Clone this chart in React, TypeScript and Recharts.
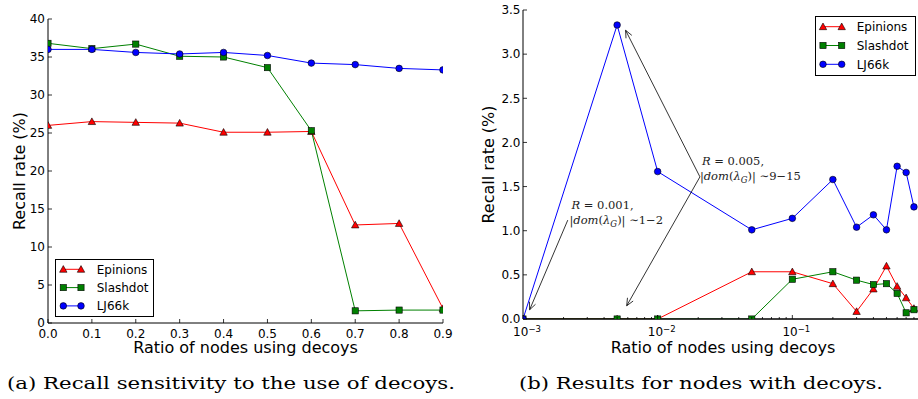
import React from "react";
import { LineChart, Line, XAxis, YAxis, Legend, ReferenceLine, ReferenceDot } from "recharts";

// (a) recall vs. ratio of nodes using decoys
const ratiosA = [0, 0.1, 0.2, 0.3, 0.4, 0.5, 0.6, 0.7, 0.8, 0.9];
const epinionsA = [26.0, 26.5, 26.4, 26.3, 25.1, 25.1, 25.2, 12.9, 13.1, 1.9];
const slashdotA = [36.8, 36.1, 36.7, 35.1, 35.0, 33.6, 25.3, 1.6, 1.7, 1.7];
const lj66kA = [36.0, 36.0, 35.6, 35.4, 35.6, 35.2, 34.2, 34.0, 33.5, 33.3];

// (b) results for nodes with decoys, log x
const ratiosB = [0.001, 0.005, 0.01, 0.05, 0.1, 0.2, 0.3, 0.4, 0.5, 0.6, 0.7, 0.8];
const epinionsB = [0, 0, 0, 0.535, 0.535, 0.4, 0.085, 0.34, 0.6, 0.37, 0.24, 0.12];
const slashdotB = [0, 0, 0, 0, 0.45, 0.535, 0.44, 0.39, 0.4, 0.29, 0.07, 0.105];
const lj66kB = [0, 3.33, 1.67, 1.01, 1.14, 1.58, 1.04, 1.18, 1.01, 1.73, 1.66, 1.27];

const xTicksA = [0, 0.1, 0.2, 0.3, 0.4, 0.5, 0.6, 0.7, 0.8, 0.9];
const yTicksA = [0, 5, 10, 15, 20, 25, 30, 35, 40];
const yTicksB = [0, 0.5, 1, 1.5, 2, 2.5, 3, 3.5];
const decadesB = [0.001, 0.01, 0.1, 1];

// annotation anchors (data coords of panel b)
const annoText = [
  { x: 0.00229, y: 1.25, r: "0.001", range: "1\u22122" },
  { x: 0.0213, y: 1.745, r: "0.005", range: "9\u221215" },
];
const annoArrows = [
  [{ x: 0.00215, y: 1.12 }, { x: 0.00112, y: 0.105 }],
  [{ x: 0.0206, y: 1.61 }, { x: 0.00578, y: 3.27 }],
  [{ x: 0.0206, y: 1.61 }, { x: 0.00589, y: 0.15 }],
];

const series = [
  { name: "Epinions", color: "#ff0000", marker: "tri", a: epinionsA, b: epinionsB },
  { name: "Slashdot", color: "#008000", marker: "sq", a: slashdotA, b: slashdotB },
  { name: "LJ66k", color: "#0000ff", marker: "circ", a: lj66kA, b: lj66kB },
];

const SANS = "'DejaVu Sans', sans-serif";
const SERIF = "'DejaVu Serif', serif";

const zip = (xs: number[], ys: number[]) => xs.map((x, i) => ({ x, y: ys[i] }));

// minor ticks 2..9 per decade
const logTicksB = decadesB.flatMap((d) =>
  d >= 1 ? [d] : [1, 2, 3, 4, 5, 6, 7, 8, 9].map((k) => +(k * d).toPrecision(3))
);
const isDecade = (v: number) => Math.abs(Math.log10(v) - Math.round(Math.log10(v))) < 1e-6;

function Marker({ kind, cx, cy, color }: { kind: string; cx: number; cy: number; color: string }) {
  const st = { fill: color, stroke: "#000", strokeWidth: 0.6 };
  if (kind === "tri") {
    const h = 3.7;
    return <path d={`M${cx},${cy - h} L${cx + h},${cy + h * 0.8} L${cx - h},${cy + h * 0.8} Z`} {...st} />;
  }
  if (kind === "sq") return <rect x={cx - 3.1} y={cy - 3.1} width={6.2} height={6.2} {...st} />;
  return <circle cx={cx} cy={cy} r={3.3} {...st} />;
}

const dotFor = (kind: string, color: string) => (p: any) => {
  if (p.cx == null || p.cy == null) return <g key={`d-${p.index}`} />;
  return (
    <g key={`d-${p.index}`}>
      <Marker kind={kind} cx={p.cx} cy={p.cy} color={color} />
    </g>
  );
};

// inward ticks drawn by hand, matplotlib style
const tickFactory =
  (side: string, gap: number, label?: (x: number, y: number, v: number) => React.ReactNode, minorCheck?: (v: number) => boolean) =>
  (p: any) => {
    const { x, y, payload } = p;
    const v = payload.value;
    const small = minorCheck ? minorCheck(v) : false;
    const len = small ? 2 : 4;
    let x1 = x, y1 = y, x2 = x, y2 = y;
    if (side === "bottom") { y1 = y - gap; y2 = y1 - len; }
    else if (side === "top") { y1 = y + gap; y2 = y1 + len; }
    else if (side === "left") { x1 = x + gap; x2 = x1 + len; }
    else { x1 = x - gap; x2 = x1 - len; }
    return (
      <g>
        <line x1={x1} y1={y1} x2={x2} y2={y2} stroke="#000" strokeWidth={0.8} />
        {label && !small ? label(x, y, v) : null}
      </g>
    );
  };

const tickText = { fontSize: 12, fontFamily: SANS, fill: "#000" };

const bottomLabelA = (x: number, y: number, v: number) => (
  <text x={x} y={y} dy="0.72em" textAnchor="middle" {...tickText}>{v.toFixed(1)}</text>
);
const leftLabelA = (x: number, y: number, v: number) => (
  <text x={x} y={y} dy="0.36em" textAnchor="end" {...tickText}>{v}</text>
);
const leftLabelB = (x: number, y: number, v: number) => (
  <text x={x} y={y} dy="0.36em" textAnchor="end" {...tickText}>{v.toFixed(1)}</text>
);
// 10^0 sits past the visible edge in the original, so no label for it
const logLabelB = (x: number, y: number, v: number) =>
  v >= 1 ? null : (
    <text x={x + 4} y={y} dy="0.72em" textAnchor="middle" {...tickText}>
      <tspan>10</tspan>
      <tspan dy="-0.45em" fontSize={8.5}>{`\u2212${-Math.round(Math.log10(v))}`}</tspan>
    </text>
  );

const Arrow = (p: any) => {
  const { x1, y1, x2, y2 } = p;
  const a = Math.atan2(y2 - y1, x2 - x1);
  const L = 8, w = 0.42;
  const ax = x2 - L * Math.cos(a - w), ay = y2 - L * Math.sin(a - w);
  const bx = x2 - L * Math.cos(a + w), by = y2 - L * Math.sin(a + w);
  return (
    <g>
      <line x1={x1} y1={y1} x2={x2} y2={y2} stroke="#000" strokeWidth={0.8} />
      <polyline points={`${ax},${ay} ${x2},${y2} ${bx},${by}`} fill="none" stroke="#000" strokeWidth={0.8} />
    </g>
  );
};

const mathStyle = { fontFamily: SERIF, fontSize: 11.5, fill: "#222" };
const annoShape = (r: string, range: string) => (p: any) => (
  <g>
    <text x={p.cx} y={p.cy} {...mathStyle}>
      <tspan fontStyle="italic">R</tspan>
      <tspan>{` = ${r},`}</tspan>
    </text>
    <text x={p.cx - 2} y={p.cy + 15} {...mathStyle}>
      <tspan>|</tspan>
      <tspan fontStyle="italic">dom</tspan>
      <tspan>(</tspan>
      <tspan fontStyle="italic">{"\u03bb"}</tspan>
      <tspan fontStyle="italic" fontSize={8.5} dy={3}>G</tspan>
      <tspan dy={-3}>)|</tspan>
      <tspan>{` \u223c${range}`}</tspan>
    </text>
  </g>
);

function LegendBox({ w, h, rowY, gap, mx1, mx2, tx }: { w: number; h: number; rowY: number; gap: number; mx1: number; mx2: number; tx: number }) {
  return (
    <svg width={w} height={h} style={{ display: "block" }}>
      <rect x={0.5} y={0.5} width={w - 1} height={h - 1} fill="#fff" stroke="#000" strokeWidth={1} />
      {series.map((s, i) => {
        const cy = rowY + i * gap;
        return (
          <g key={s.name}>
            <line x1={mx1} x2={mx2} y1={cy} y2={cy} stroke={s.color} strokeWidth={1} />
            <Marker kind={s.marker} cx={mx1} cy={cy} color={s.color} />
            <Marker kind={s.marker} cx={mx2} cy={cy} color={s.color} />
            <text x={tx} y={cy} dy="0.36em" fontSize={12} fontFamily={SANS} fill="#000">{s.name}</text>
          </g>
        );
      })}
    </svg>
  );
}

function PanelA() {
  return (
    <LineChart width={460} height={399} margin={{ top: 19, right: 17, bottom: 0, left: 0 }}>
      <XAxis dataKey="x" type="number" domain={[0, 0.9]} ticks={xTicksA} interval={0} allowDataOverflow
        height={76} tickSize={0} tickMargin={6} tickLine={false} axisLine={{ stroke: "#000" }}
        tick={tickFactory("bottom", 6, bottomLabelA)} />
      <XAxis xAxisId="top" orientation="top" type="number" domain={[0, 0.9]} ticks={xTicksA} interval={0} allowDataOverflow
        height={0} tickSize={0} tickMargin={0} tickLine={false} axisLine={{ stroke: "#000" }}
        tick={tickFactory("top", 0)} />
      <YAxis type="number" domain={[0, 40]} ticks={yTicksA} interval={0} allowDataOverflow
        width={48} tickSize={0} tickMargin={3} tickLine={false} axisLine={{ stroke: "#000" }}
        tick={tickFactory("left", 3, leftLabelA)} />
      <YAxis yAxisId="right" orientation="right" type="number" domain={[0, 40]} ticks={yTicksA} interval={0} allowDataOverflow
        width={0} tickSize={0} tickMargin={0} tickLine={false} axisLine={{ stroke: "#000" }}
        tick={tickFactory("right", 0)} />
      {series.map((s) => (
        <Line key={s.name} data={zip(ratiosA, s.a)} dataKey="y" name={s.name} stroke={s.color} strokeWidth={1}
          dot={dotFor(s.marker, s.color)} activeDot={false} isAnimationActive={false} />
      ))}
      <Legend layout="vertical" align="center" verticalAlign="middle"
        wrapperStyle={{ left: 55, top: 259, width: 99, height: 58 }}
        content={() => <LegendBox w={99} h={58} rowY={10.3} gap={18.3} mx1={8.3} mx2={26} tx={41.7} />} />
    </LineChart>
  );
}

function PanelB() {
  return (
    <LineChart width={470} height={399} margin={{ top: 10, right: 3, bottom: 0, left: 0 }}>
      <XAxis dataKey="x" type="number" scale="log" domain={[0.001, 1]} ticks={logTicksB} interval={0} allowDataOverflow
        height={80} tickSize={0} tickMargin={8} tickLine={false} axisLine={{ stroke: "#000" }}
        tick={tickFactory("bottom", 8, logLabelB, (v) => !isDecade(v))} />
      <XAxis xAxisId="top" orientation="top" type="number" scale="log" domain={[0.001, 1]} ticks={logTicksB} interval={0} allowDataOverflow
        height={0} tickSize={0} tickMargin={0} tickLine={false} axisLine={{ stroke: "#000" }}
        tick={tickFactory("top", 0, undefined, (v) => !isDecade(v))} />
      <YAxis type="number" domain={[0, 3.5]} ticks={yTicksB} interval={0} allowDataOverflow
        width={63} tickSize={0} tickMargin={2.5} tickLine={false} axisLine={{ stroke: "#000" }}
        tick={tickFactory("left", 2.5, leftLabelB)} />
      {series.map((s) => (
        <Line key={s.name} data={zip(ratiosB, s.b)} dataKey="y" name={s.name} stroke={s.color} strokeWidth={1}
          dot={dotFor(s.marker, s.color)} activeDot={false} isAnimationActive={false} />
      ))}
      <ReferenceLine y={0} stroke="#000" strokeWidth={1} />
      {annoArrows.map((seg, i) => (
        <ReferenceLine key={`arr-${i}`} segment={seg} shape={Arrow} />
      ))}
      {annoText.map((t) => (
        <ReferenceDot key={t.r} x={t.x} y={t.y} r={0} shape={annoShape(t.r, t.range)} />
      ))}
      <Legend layout="vertical" align="center" verticalAlign="middle"
        wrapperStyle={{ left: 355, top: 16, width: 101, height: 60 }}
        content={() => <LegendBox w={101} h={60} rowY={10.7} gap={18.8} mx1={8} mx2={26.7} tx={41.7} />} />
    </LineChart>
  );
}

export default function App() {
  const title = { fontFamily: SANS, fontSize: 16, fill: "#000" };
  const caption = { fontFamily: SERIF, fontSize: 16.5, fill: "#000" };
  return (
    <div style={{ position: "absolute", left: 0, top: 0, width: 918, height: 399, overflow: "hidden", background: "#fff" }}>
      <div style={{ position: "absolute", left: 0, top: 0 }}>
        <PanelA />
      </div>
      <div style={{ position: "absolute", left: 460, top: 0 }}>
        <PanelB />
      </div>
      <svg width={918} height={399} style={{ position: "absolute", left: 0, top: 0, pointerEvents: "none" }}>
        <text x={19} y={171} transform="rotate(-90 19 171)" textAnchor="middle" dominantBaseline="central" {...title}>Recall rate (%)</text>
        <text x={245.5} y={353} textAnchor="middle" {...title}>Ratio of nodes using decoys</text>
        <text x={488} y={164.5} transform="rotate(-90 488 164.5)" textAnchor="middle" dominantBaseline="central" {...title}>Recall rate (%)</text>
        <text x={723} y={353} textAnchor="middle" {...title}>Ratio of nodes using decoys</text>
        <text x={231} y={389} textAnchor="middle" textLength={448} lengthAdjust="spacingAndGlyphs" {...caption}>(a) Recall sensitivity to the use of decoys.</text>
        <text x={701} y={389} textAnchor="middle" textLength={364} lengthAdjust="spacingAndGlyphs" {...caption}>(b) Results for nodes with decoys.</text>
      </svg>
    </div>
  );
}
